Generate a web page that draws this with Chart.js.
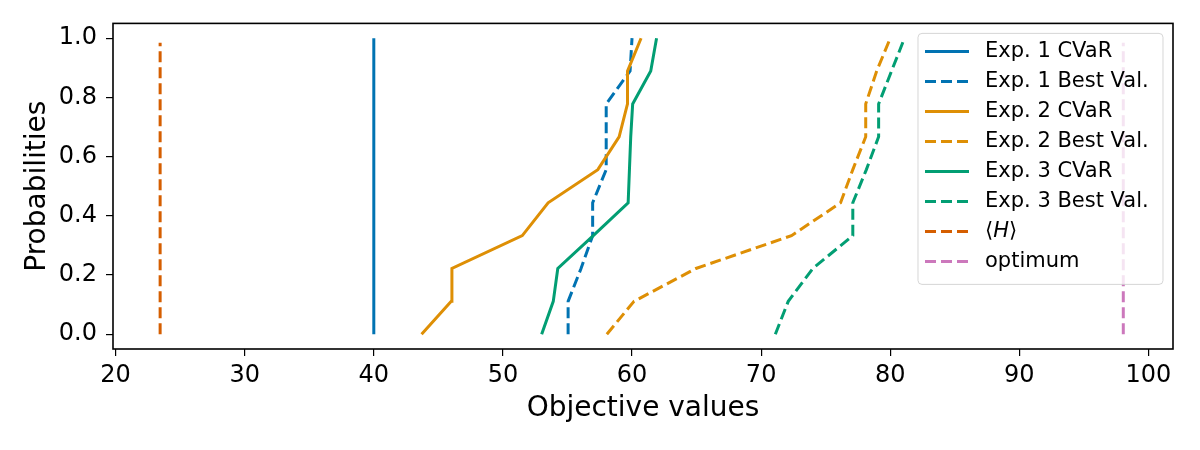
<!DOCTYPE html>
<html>
<head>
<meta charset="utf-8">
<script src="https://cdn.jsdelivr.net/npm/chart.js@4.4.1/dist/chart.umd.min.js"></script>
<style>
  html, body { margin: 0; padding: 0; background: #fff; }
  #wrap { width: 1200px; height: 450px; }
</style>
</head>
<body>
<div id="wrap"><canvas id="chart" width="1200" height="450"></canvas></div>
<script>
// probability levels shared by all experiment curves
const probabilities = [0.0, 0.111, 0.222, 0.333, 0.444, 0.556, 0.667, 0.778, 0.889, 1.0];

// objective values
const exp1Cvar = [40.0, 40.0, 40.0, 40.0, 40.0, 40.0, 40.0, 40.0, 40.0, 40.0];
const exp1Best = [55.05, 55.05, 56.05, 56.95, 56.95, 58.0, 58.0, 58.0, 59.85, 60.0];
const exp2Cvar = [43.7, 46.0, 46.05, 51.5, 53.5, 57.35, 59.0, 59.65, 59.65, 60.7];
const exp2Best = [58.05, 60.15, 64.95, 72.35, 76.15, 77.1, 78.1, 78.1, 78.95, 80.0];
const exp3Cvar = [53.0, 53.9, 54.25, 57.0, 59.7, 59.8, 59.9, 60.05, 61.45, 61.9];
const exp3Best = [71.1, 72.1, 74.0, 77.1, 77.1, 78.15, 79.1, 79.1, 80.1, 81.1];

// reference lines
const hMeanX = [23.45, 23.45];
const hMeanY = [0.0, 0.985];
const optimumX = [98.05, 98.05];
const optimumY = [0.0, 0.985];

const seriesLabels = ['Exp. 1 CVaR', 'Exp. 1 Best Val.', 'Exp. 2 CVaR', 'Exp. 2 Best Val.',
                      'Exp. 3 CVaR', 'Exp. 3 Best Val.', '⟨H⟩', 'optimum'];

const xTicks = [20, 30, 40, 50, 60, 70, 80, 90, 100];
const yTicks = [0.0, 0.2, 0.4, 0.6, 0.8, 1.0];

const FONT = "'DejaVu Sans', sans-serif";
const DASH = [11, 5];

function pts(xs, ys) {
    return xs.map((x, i) => ({ x: x, y: ys[i] }));
}

function line(label, data, color, dashed) {
    return {
        label: label,
        data: data,
        borderColor: color,
        backgroundColor: color,
        borderWidth: 3,
        borderDash: dashed ? DASH : [],
        borderCapStyle: 'butt',
        showLine: true,
        pointRadius: 0,
        tension: 0,
        fill: false
    };
}

const datasets = [
    line(seriesLabels[0], pts(exp1Cvar, probabilities), '#0173b2', false),
    line(seriesLabels[1], pts(exp1Best, probabilities), '#0173b2', true),
    line(seriesLabels[2], pts(exp2Cvar, probabilities), '#de8f05', false),
    line(seriesLabels[3], pts(exp2Best, probabilities), '#de8f05', true),
    line(seriesLabels[4], pts(exp3Cvar, probabilities), '#029e73', false),
    line(seriesLabels[5], pts(exp3Best, probabilities), '#029e73', true),
    line(seriesLabels[6], pts(hMeanX, hMeanY), '#d55e00', true),
    line(seriesLabels[7], pts(optimumX, optimumY), '#cc78bc', true)
];
// later series on top, like matplotlib
datasets.forEach((d, i) => { d.order = datasets.length - i; });

// axes frame + legend box drawn over the lines
const frameAndLegend = {
    id: 'frameAndLegend',
    afterDatasetsDraw(chart) {
        const ctx = chart.ctx;
        const a = chart.chartArea;
        ctx.save();
        ctx.strokeStyle = '#000';
        ctx.lineWidth = 1.6;
        ctx.strokeRect(a.left, a.top, a.right - a.left, a.bottom - a.top);

        const w = 245, h = 251;
        const x0 = a.right - 255, y0 = a.top + 10;
        ctx.beginPath();
        ctx.roundRect(x0, y0, w, h, 4);
        ctx.fillStyle = 'rgba(255,255,255,0.8)';
        ctx.fill();
        ctx.strokeStyle = 'rgba(204,204,204,0.8)';
        ctx.lineWidth = 1;
        ctx.stroke();

        chart.data.datasets.forEach((ds, i) => {
            const cy = y0 + 18 + 30 * i;
            ctx.beginPath();
            ctx.strokeStyle = ds.borderColor;
            ctx.lineWidth = 3;
            ctx.lineCap = 'butt';
            ctx.setLineDash(ds.borderDash);
            ctx.moveTo(x0 + 7, cy);
            ctx.lineTo(x0 + 51, cy);
            ctx.stroke();
            ctx.setLineDash([]);

            ctx.fillStyle = '#000';
            ctx.textBaseline = 'middle';
            ctx.textAlign = 'left';
            let tx = x0 + 67;
            if (ds.label === '⟨H⟩') {
                const parts = [['⟨', ''], ['H', 'italic '], ['⟩', '']];
                parts.forEach(p => {
                    ctx.font = p[1] + '21px ' + FONT;
                    ctx.fillText(p[0], tx, cy);
                    tx += ctx.measureText(p[0]).width;
                });
            } else {
                ctx.font = '21px ' + FONT;
                ctx.fillText(ds.label, tx, cy);
            }
        });
        ctx.restore();
    }
};

new Chart(document.getElementById('chart').getContext('2d'), {
    type: 'scatter',
    data: { datasets: datasets },
    options: {
        responsive: false,
        animation: false,
        layout: { padding: { top: 22, right: 27, left: 0, bottom: 0 } },
        plugins: {
            legend: { display: false },
            tooltip: { enabled: false }
        },
        scales: {
            x: {
                type: 'linear',
                min: 19.8,
                max: 101.9,
                afterBuildTicks: s => { s.ticks = xTicks.map(v => ({ value: v })); },
                afterFit: s => { s.height = 101; },
                border: { display: false },
                grid: { drawOnChartArea: false, tickLength: 7, color: '#000', lineWidth: 1.2 },
                ticks: {
                    color: '#000',
                    font: { family: FONT, size: 24 },
                    padding: 5,
                    maxRotation: 0,
                    callback: v => String(v)
                },
                title: {
                    display: true,
                    text: 'Objective values',
                    color: '#000',
                    font: { family: FONT, size: 28 },
                    padding: { top: 0, bottom: 24 }
                }
            },
            y: {
                type: 'linear',
                min: -0.05,
                max: 1.05,
                afterBuildTicks: s => { s.ticks = yTicks.map(v => ({ value: v })); },
                afterFit: s => { s.width = 113; },
                border: { display: false },
                grid: { drawOnChartArea: false, tickLength: 7, color: '#000', lineWidth: 1.2 },
                ticks: {
                    color: '#000',
                    font: { family: FONT, size: 24 },
                    padding: 9,
                    callback: v => v.toFixed(1)
                },
                title: {
                    display: true,
                    text: 'Probabilities',
                    color: '#000',
                    font: { family: FONT, size: 28 },
                    padding: { top: 21, bottom: 0 }
                }
            }
        }
    },
    plugins: [frameAndLegend]
});
</script>
</body>
</html>
